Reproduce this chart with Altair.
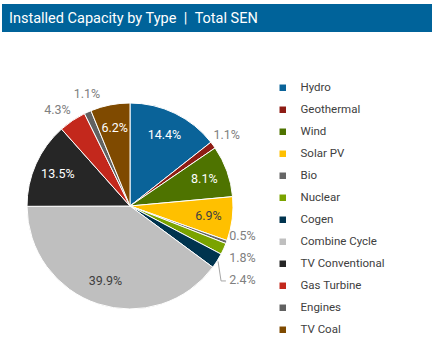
import math
import altair as alt
import pandas as pd

categories = ["Hydro", "Geothermal", "Wind", "Solar PV", "Bio", "Nuclear", "Cogen",
              "Combine Cycle", "TV Conventional", "Gas Turbine", "Engines", "TV Coal"]
shares = [14.4, 1.1, 8.1, 6.9, 0.5, 1.8, 2.4, 39.9, 13.5, 4.3, 1.1, 6.2]
palette = ["#0A6399", "#8E1C14", "#4E7300", "#FFC000", "#666666", "#7AA300", "#00344F",
           "#BFBFBF", "#262626", "#C3281C", "#616161", "#7F4A00"]
title_text = "Installed Capacity by Type\u2002|\u2002Total SEN"

FONT = "Roboto"
CX, CY, R = 130, 206, 103
R_IN, R_OUT = 79, 120
LBL_W, LBL_H = 29, 22   # label box used for collision avoidance


def lum(h):
    r, g, b = (int(h[i:i + 2], 16) / 255 for i in (1, 3, 5))
    return 0.299 * r + 0.587 * g + 0.114 * b


df = pd.DataFrame({"type": categories, "share": shares, "idx": range(len(categories))})
df["label"] = [f"{v:.1f}%" for v in shares]
df["light"] = [lum(c) > 0.55 for c in palette]

# --- outside label layout (small slices) ---
total = sum(shares)
cum, mids = 0.0, []
for v in shares:
    mids.append((cum + v / 2) / total * 360.0)
    cum += v
small = [i for i, v in enumerate(shares) if v < 5]


def polar(a, r):
    t = math.radians(a)
    return CX + r * math.sin(t), CY - r * math.cos(t)


lx, ly = {}, {}
for i in small:
    lx[i], ly[i] = polar(mids[i], R_OUT)

side = [i for i in small if abs(math.sin(math.radians(mids[i]))) > 0.7]
topb = [i for i in small if i not in side]

# side labels: stack vertically in a column
for sgn in (1, -1):
    items = sorted([i for i in side if (lx[i] - CX) * sgn > 0], key=lambda i: ly[i])
    clusters, cur = [], []
    for i in items:
        if cur and ly[i] - ly[cur[-1]] < LBL_H:
            cur.append(i)
        else:
            if cur:
                clusters.append(cur)
            cur = [i]
    if cur:
        clusters.append(cur)
    for cl in clusters:
        if len(cl) < 2:
            continue
        c = sum(ly[i] for i in cl) / len(cl)
        colx = max(lx[i] for i in cl) if sgn > 0 else min(lx[i] for i in cl)
        for k, i in enumerate(cl):
            ly[i] = c + (k - (len(cl) - 1) / 2) * LBL_H
            lx[i] = colx

# top/bottom labels: spread along the circle
ang = {i: mids[i] for i in topb}
for _ in range(2000):
    moved = False
    order = sorted(topb, key=lambda i: ang[i])
    for a, b in zip(order, order[1:]):
        xa, ya = polar(ang[a], R_OUT)
        xb, yb = polar(ang[b], R_OUT)
        if abs(xa - xb) < LBL_W and abs(ya - yb) < LBL_H:
            ang[a] -= 0.25
            ang[b] += 0.25
            moved = True
    if not moved:
        break
for i in topb:
    lx[i], ly[i] = polar(ang[i], R_OUT)

out_df = pd.DataFrame({
    "label": [df["label"][i] for i in small],
    "lx": [lx[i] for i in small],
    "ly": [ly[i] for i in small],
})

# leader lines for labels pushed far from their slice
lead_rows = []
for i in small:
    ex, ey = polar(mids[i], R + 1)
    if math.hypot(lx[i] - ex, ly[i] - ey) > 25:
        sgn = 1 if lx[i] > CX else -1
        pts = [(ex, ey), (ex + 3 * sgn, ly[i] + 1), (lx[i] - sgn * (LBL_W / 2 + 2), ly[i] + 1)]
        for k, (px, py) in enumerate(pts):
            lead_rows.append({"g": i, "k": k, "px": px, "py": py})
lead_df = pd.DataFrame(lead_rows if lead_rows else [{"g": -1, "k": 0, "px": None, "py": None}])

pie = alt.Chart(df).mark_arc(x=CX, y=CY, outerRadius=R, stroke="white", strokeWidth=1).encode(
    theta=alt.Theta("share:Q", stack=True),
    order=alt.Order("idx:Q"),
    color=alt.Color(
        "type:N",
        scale=alt.Scale(domain=categories, range=palette),
        sort=categories,
        legend=alt.Legend(
            orient="none", legendX=277, legendY=82, title=None,
            symbolType="square", symbolSize=42, symbolStrokeWidth=0,
            labelFont=FONT, labelFontSize=11.5, labelColor="#404040",
            labelOffset=12, rowPadding=9, padding=0,
        ),
    ),
)

inside = alt.Chart(df).transform_window(
    cum="sum(share)", sort=[alt.SortField("idx")], frame=[None, 0]
).transform_calculate(
    mid="datum.cum - datum.share / 2"
).transform_filter("datum.share >= 5").mark_text(
    x=CX, y=CY, font=FONT, fontSize=12.5
).encode(
    theta=alt.Theta("mid:Q", stack=None),
    radius=alt.value(R_IN),
    text="label:N",
    color=alt.condition("datum.light", alt.value("#404040"), alt.value("#FFFFFF")),
)

outside = alt.Chart(out_df).mark_text(
    font=FONT, fontSize=12.5, color="#808080", align="center", baseline="middle"
).encode(
    x=alt.X("lx:Q", scale=None),
    y=alt.Y("ly:Q", scale=None),
    text="label:N",
)

leaders = alt.Chart(lead_df).mark_line(color="#A6A6A6", strokeWidth=1).encode(
    x=alt.X("px:Q", scale=None),
    y=alt.Y("py:Q", scale=None),
    detail="g:N",
    order="k:Q",
)

one = alt.Data(values=[{}])
title_bar = alt.Chart(one).mark_rect(color="#00639A").encode(
    x=alt.value(2), x2=alt.value(432), y=alt.value(4), y2=alt.value(32)
)
title_txt = alt.Chart(one).mark_text(
    align="left", baseline="middle", color="white", font=FONT, fontSize=14.5
).encode(x=alt.value(9), y=alt.value(18.5), text=alt.value(title_text))

chart = alt.layer(title_bar, title_txt, pie, leaders, inside, outside).properties(
    width=438, height=353, autosize=alt.AutoSizeParams(type="none"), padding=0,
    background="white",
).configure_view(stroke=None)

chart.save("out.html", embed_options={"renderer": "svg", "actions": False})
